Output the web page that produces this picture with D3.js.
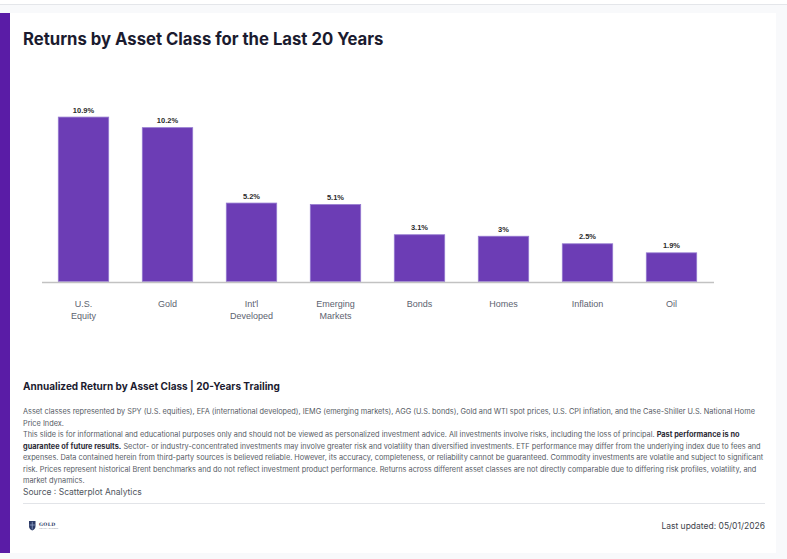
<!DOCTYPE html>
<html>
<head>
<meta charset="utf-8">
<script src="https://cdn.jsdelivr.net/npm/d3@7"></script>
<style>
  html, body { margin: 0; padding: 0; background: #f8f9fb; }
  svg { display: block; }
</style>
</head>
<body>
<div id="chart"></div>
<script>
// chart data
const categories = ["U.S. Equity", "Gold", "Int'l Developed", "Emerging Markets", "Bonds", "Homes", "Inflation", "Oil"];
const categoryLines = [["U.S.", "Equity"], ["Gold"], ["Int'l", "Developed"], ["Emerging", "Markets"], ["Bonds"], ["Homes"], ["Inflation"], ["Oil"]];
const returns = [10.9, 10.2, 5.2, 5.1, 3.1, 3, 2.5, 1.9];
const valueLabels = ["10.9%", "10.2%", "5.2%", "5.1%", "3.1%", "3%", "2.5%", "1.9%"];

const title = "Returns by Asset Class for the Last 20 Years";
const subtitle = "Annualized Return by Asset Class | 20-Years Trailing";
// each line is a list of [text, bold]
const disclaimer = [
  [["Asset classes represented by SPY (U.S. equities), EFA (international developed), IEMG (emerging markets), AGG (U.S. bonds), Gold and WTI spot prices, U.S. CPI inflation, and the Case-Shiller U.S. National Home", false]],
  [["Price Index.", false]],
  [["This slide is for informational and educational purposes only and should not be viewed as personalized investment advice. All investments involve risks, including the loss of principal. ", false], ["Past performance is no", true]],
  [["guarantee of future results.", true], [" Sector- or industry-concentrated investments may involve greater risk and volatility than diversified investments. ETF performance may differ from the underlying index due to fees and", false]],
  [["expenses. Data contained herein from third-party sources is believed reliable. However, its accuracy, completeness, or reliability cannot be guaranteed. Commodity investments are volatile and subject to significant", false]],
  [["risk. Prices represent historical Brent benchmarks and do not reflect investment product performance. Returns across different asset classes are not directly comparable due to differing risk profiles, volatility, and", false]],
  [["market dynamics.", false]]
];
const source = "Source : Scatterplot Analytics";
const updated = "Last updated: 05/01/2026";

const W = 787, H = 559;
const svg = d3.select("#chart").append("svg")
  .attr("width", W).attr("height", H);

// page chrome
svg.append("rect").attr("x", 0).attr("y", 0).attr("width", W).attr("height", 4.5).attr("fill", "#ffffff");
svg.append("line").attr("x1", 0).attr("x2", W).attr("y1", 4.5).attr("y2", 4.5).attr("stroke", "#e4e6ea");
svg.append("rect").attr("x", 0).attr("y", 13).attr("width", 776).attr("height", 540).attr("fill", "#ffffff");
svg.append("rect").attr("x", 0).attr("y", 13).attr("width", 10).attr("height", 540).attr("fill", "#5a1ca6");

svg.append("text")
  .attr("x", 23).attr("y", 45)
  .attr("font-family", "Inter, 'Liberation Sans', sans-serif")
  .attr("font-size", 16.7).attr("font-weight", 700)
  .attr("fill", "#1b1b2f")
  .text(title);

// bars
const x = d3.scaleBand()
  .domain(categories)
  .range([41.5, 713.5])
  .paddingInner(0.4)
  .paddingOuter(0.2);

const y = d3.scaleLinear()
  .domain([0, 12])
  .range([281.5, 100.5]);

const g = svg.append("g");

g.selectAll("rect.bar")
  .data(returns)
  .join("rect")
    .attr("class", "bar")
    .attr("x", (d, i) => x(categories[i]))
    .attr("y", d => y(d))
    .attr("width", x.bandwidth())
    .attr("height", d => y(0) - y(d))
    .attr("fill", "#6c3db5")
    .attr("stroke", "#9479cf")
    .attr("stroke-width", 0.8);

g.selectAll("text.val")
  .data(returns)
  .join("text")
    .attr("class", "val")
    .attr("x", (d, i) => x(categories[i]) + x.bandwidth() / 2)
    .attr("y", d => y(d) - 4.5)
    .attr("text-anchor", "middle")
    .attr("font-family", "'Liberation Sans', Arial, sans-serif")
    .attr("font-size", 7.5).attr("font-weight", 700)
    .attr("fill", "#2b2b2b")
    .text((d, i) => valueLabels[i]);

// x axis
const xAxis = svg.append("g")
  .attr("transform", `translate(0,${y(0) + 0.5})`)
  .call(d3.axisBottom(x).tickSize(0).tickSizeOuter(0).tickPadding(0));

xAxis.select(".domain").attr("stroke", "#c2c2c2").attr("stroke-width", 1.5);
xAxis.selectAll(".tick text").remove();
xAxis.selectAll(".tick").each(function(d, i) {
  const t = d3.select(this).append("text")
    .attr("text-anchor", "middle")
    .attr("font-family", "'Liberation Sans', Arial, sans-serif")
    .attr("font-size", 9)
    .attr("fill", "#5d6370");
  categoryLines[i].forEach((ln, k) => {
    t.append("tspan").attr("x", 0).attr("y", 24.5 + k * 12.8).text(ln);
  });
});

// footer texts
svg.append("text")
  .attr("x", 23).attr("y", 390)
  .attr("font-family", "Inter, 'Liberation Sans', sans-serif")
  .attr("font-size", 10).attr("font-weight", 700)
  .attr("fill", "#1b1b2f")
  .text(subtitle);

const disc = svg.append("g")
  .attr("font-family", "Inter, 'Liberation Sans', sans-serif")
  .attr("font-size", 7.35)
  .attr("fill", "#555a64");

disclaimer.forEach((line, i) => {
  const t = disc.append("text").attr("x", 23).attr("y", 414 + i * 11.55);
  line.forEach(([s, b]) => {
    t.append("tspan")
      .attr("font-weight", b ? 700 : 400)
      .attr("fill", b ? "#2a2a35" : null)
      .text(s);
  });
});

svg.append("text")
  .attr("x", 23).attr("y", 495)
  .attr("font-family", "Inter, 'Liberation Sans', sans-serif")
  .attr("font-size", 8.5)
  .attr("fill", "#4f5560")
  .text(source);

svg.append("line")
  .attr("x1", 23).attr("x2", 765).attr("y1", 503.5).attr("y2", 503.5)
  .attr("stroke", "#e2e4e8");

// small logo
const logo = svg.append("g").attr("transform", "translate(29,521)");
logo.append("path")
  .attr("d", "M0,0 H6.5 V5 Q6.5,8 3.25,9.5 Q0,8 0,5 Z")
  .attr("fill", "#2c3a66");
logo.append("path")
  .attr("d", "M3.25,0.8 V8.5 M0.6,4 H5.9")
  .attr("stroke", "#9fb0d6").attr("stroke-width", 0.7);
logo.append("text")
  .attr("x", 10).attr("y", 5.2)
  .attr("font-family", "'DejaVu Serif', serif")
  .attr("font-size", 4.6).attr("font-weight", 700)
  .attr("fill", "#2c3a66")
  .attr("letter-spacing", 0.4)
  .text("GOLD");
logo.append("text")
  .attr("x", 10).attr("y", 8.3)
  .attr("font-family", "'Liberation Sans', sans-serif")
  .attr("font-size", 2)
  .attr("fill", "#8a90a0")
  .text("WEALTH ADVISORS");

svg.append("text")
  .attr("x", 765).attr("y", 529)
  .attr("text-anchor", "end")
  .attr("font-family", "Inter, 'Liberation Sans', sans-serif")
  .attr("font-size", 8.5)
  .attr("fill", "#3e434d")
  .text(updated);
</script>
</body>
</html>
